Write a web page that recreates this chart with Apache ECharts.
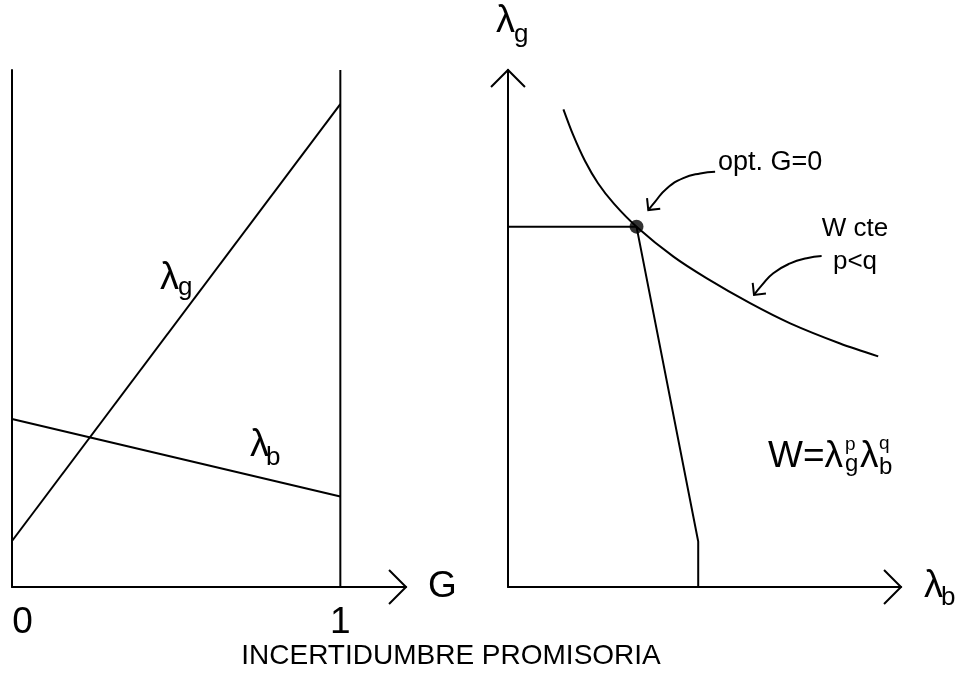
<!DOCTYPE html>
<html>
<head>
<meta charset="utf-8">
<script src="https://cdn.jsdelivr.net/npm/echarts@6/dist/echarts.min.js"></script>
<style>
  html, body { margin: 0; padding: 0; background: #fff; }
  #chart { width: 960px; height: 677px; }
</style>
</head>
<body>
<div id="chart"></div>
<script>
// ---- Left panel: arrival rates against G ----
const gTicks = [0, 1];
const gEnds = [0, 1];
const lambdaGLeft = [0.89, 9.34];   // λg at G = 0 and G = 1
const lambdaBLeft = [3.25, 1.75];   // λb at G = 0 and G = 1

// ---- Right panel: constant-W curve and attainable frontier (λb, λg) ----
const isoB = [1.41, 1.66, 1.96, 2.29, 2.70, 3.27, 4.21, 5.06, 6.16, 7.18, 8.45, 9.42];
const isoG = [9.24, 8.74, 8.24, 7.81, 7.41, 6.97, 6.39, 5.97, 5.49, 5.10, 4.71, 4.46];
const optimum = [3.27, 6.97];
const frontierB = [3.27, 4.84, 4.84];
const frontierG = [6.97, 0.88, 0];

// Callout leaders, in (λb, λg) units
const optCalloutB = [5.27, 4.89, 4.46, 4.04, 3.74, 3.57];
const optCalloutG = [8.03, 8.00, 7.91, 7.71, 7.45, 7.29];
const isoCalloutB = [7.98, 7.60, 7.18, 6.75, 6.46, 6.26];
const isoCalloutG = [6.40, 6.36, 6.26, 6.07, 5.84, 5.65];

// ---- layout ----
const FONT = '"Liberation Sans", Arial, sans-serif';
const INK = '#000';
const gridL = { left: 12, top: 70, width: 394, height: 517 };
const gridR = { left: 508, top: 70, width: 393, height: 517 };
const extL = { x: [0, 1.2], y: [0, 10] };
const extR = { x: [0, 10], y: [0, 10] };
const scaleL = { x: gridL.width / (extL.x[1] - extL.x[0]), y: gridL.height / (extL.y[1] - extL.y[0]) };
const scaleR = { x: gridR.width / (extR.x[1] - extR.x[0]), y: gridR.height / (extR.y[1] - extR.y[0]) };

const zip = (a, b) => a.map((v, i) => [v, b[i]]);

// Open arrow head: two strokes swept back from the tip.
// dir is the travel direction in screen space (y down).
function chevron(tip, dir, len, halfAngle, sc) {
  const n = Math.hypot(dir[0], dir[1]);
  const ux = -dir[0] / n, uy = -dir[1] / n;
  const wing = (a) => {
    const c = Math.cos(a), s = Math.sin(a);
    const px = (ux * c - uy * s) * len;
    const py = (ux * s + uy * c) * len;
    return [tip[0] + px / sc.x, tip[1] - py / sc.y];
  };
  return [wing(halfAngle), tip, wing(-halfAngle)];
}
function headFor(bs, gs, sc, len) {
  const k = bs.length - 1;
  const dir = [(bs[k] - bs[k - 1]) * sc.x, -(gs[k] - gs[k - 1]) * sc.y];
  return chevron([bs[k], gs[k]], dir, len, Math.PI / 4, sc);
}

const stroke = { color: INK, width: 2 };
function lineSeries(data, xi, extra) {
  return Object.assign({
    type: 'line', xAxisIndex: xi, yAxisIndex: xi, data: data,
    symbol: 'none', clip: false, silent: true, animation: false,
    lineStyle: stroke, z: 3
  }, extra || {});
}
// Arrow heads go through a polyline 'lines' series so that points
// beyond the axis extent are still drawn.
function headSeries(pts, xi) {
  return {
    type: 'lines', coordinateSystem: 'cartesian2d', xAxisIndex: xi, yAxisIndex: xi,
    polyline: true, clip: false, silent: true, animation: false,
    data: [{ coords: pts }],
    lineStyle: { color: INK, width: 2, opacity: 1, curveness: 0 },
    effect: { show: false }, z: 3
  };
}

function axisBase(gi, ext) {
  return {
    type: 'value', gridIndex: gi, min: ext[0], max: ext[1],
    axisLine: { show: true, onZero: false, lineStyle: stroke },
    axisTick: { show: false }, splitLine: { show: false },
    axisLabel: { show: false }
  };
}

const xL = axisBase(0, extL.x);
xL.axisLabel = {
  show: true, customValues: gTicks, margin: 17, color: INK,
  fontFamily: FONT, fontSize: 37,
  formatter: (v) => v === 0 ? '{z|0}' : (v === 1 ? '{o|1}' : ''),
  rich: {
    z: { fontFamily: FONT, fontSize: 37, color: INK, padding: [0, 0, 0, 21] },
    o: { fontFamily: FONT, fontSize: 37, color: INK }
  }
};
xL.name = 'G';
xL.nameLocation = 'end';
xL.nameGap = 22;
xL.nameTextStyle = { fontFamily: FONT, fontSize: 37, color: INK, align: 'left', verticalAlign: 'middle' };

function txt(x, y, text, size, align) {
  return {
    type: 'text', x: x, y: y, z: 20, silent: true,
    style: {
      text: text, font: size + 'px ' + FONT, fill: INK,
      textAlign: align || 'left', textVerticalAlign: 'middle'
    }
  };
}

const chart = echarts.init(document.getElementById('chart'), null, { renderer: 'canvas' });
chart.setOption({
  animation: false,
  backgroundColor: '#fff',
  grid: [
    Object.assign({ containLabel: false }, gridL),
    Object.assign({ containLabel: false }, gridR)
  ],
  xAxis: [xL, axisBase(1, extR.x)],
  yAxis: [axisBase(0, extL.y), axisBase(1, extR.y)],
  series: [
    // left panel
    lineSeries(zip(gEnds, lambdaGLeft), 0),
    lineSeries(zip(gEnds, lambdaBLeft), 0),
    lineSeries([[gEnds[1], extL.y[0]], [gEnds[1], extL.y[1]]], 0),
    headSeries(chevron([extL.x[1], 0], [1, 0], 24, Math.PI / 4, scaleL), 0),
    // right panel
    lineSeries(zip(isoB, isoG), 1, { smooth: 0.3 }),
    lineSeries([[0, optimum[1]], optimum], 1),
    lineSeries(zip(frontierB, frontierG), 1),
    headSeries(chevron([extR.x[1], 0], [1, 0], 24, Math.PI / 4, scaleR), 1),
    headSeries(chevron([0, extR.y[1]], [0, -1], 24, Math.PI / 4, scaleR), 1),
    lineSeries(zip(optCalloutB, optCalloutG), 1, { smooth: 0.5 }),
    headSeries(headFor(optCalloutB, optCalloutG, scaleR, 12), 1),
    lineSeries(zip(isoCalloutB, isoCalloutG), 1, { smooth: 0.5 }),
    headSeries(headFor(isoCalloutB, isoCalloutG, scaleR, 12), 1),
    {
      type: 'scatter', xAxisIndex: 1, yAxisIndex: 1, data: [optimum],
      symbol: 'circle', symbolSize: 14, itemStyle: { color: INK },
      silent: true, animation: false, z: 5
    }
  ],
  graphic: [
    // labels on the left lines
    txt(160, 278.5, 'λ', 38), txt(178, 288.3, 'g', 26),
    txt(250, 445.1, 'λ', 38), txt(266, 457.7, 'b', 26),
    // right-panel axis names
    txt(496, 22, 'λ', 38), txt(514, 35, 'g', 26),
    txt(924, 586.8, 'λ', 38), txt(941, 597.7, 'b', 26),
    // W = λg^p λb^q
    txt(768, 457.2, 'W=λ', 37),
    txt(845, 445.0, 'p', 19), txt(845, 464.2, 'g', 24),
    txt(860, 457.2, 'λ', 37),
    txt(879, 443.3, 'q', 19), txt(879, 467.5, 'b', 24),
    // callout texts
    txt(718, 162.7, 'opt. G=0', 27),
    txt(855, 229.3, 'W cte', 26, 'center'),
    txt(855, 262.2, 'p<q', 26, 'center'),
    // caption
    txt(451, 656.6, 'INCERTIDUMBRE PROMISORIA', 28, 'center')
  ]
});
</script>
</body>
</html>
